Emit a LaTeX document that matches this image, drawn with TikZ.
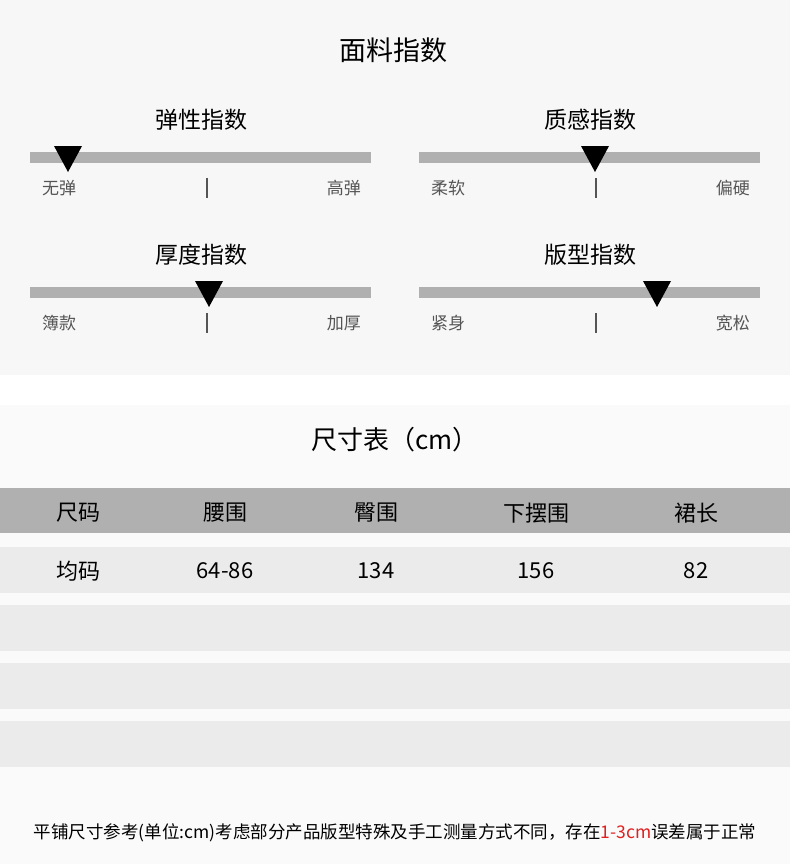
\documentclass[tikz,border=0pt]{standalone}
\usepackage{fontspec}
\setmainfont{Noto Sans CJK SC}
\usetikzlibrary{positioning}
\definecolor{panelgray}{HTML}{F7F7F7}
\definecolor{bargray}{HTML}{B0B0B0}
\definecolor{rowgray}{HTML}{EBEBEB}
\definecolor{labelgray}{HTML}{555555}
\definecolor{myred}{HTML}{E02020}
\tikzset{
  bar/.style={fill=bargray, draw=none},
  pointer/.style={fill=black, draw=none},
  sublabel/.style={font=\fontsize{17}{17}\selectfont, text=labelgray, inner sep=0pt},
  subtitle/.style={font=\fontsize{23}{23}\selectfont, inner sep=0pt},
  cell/.style={font=\fontsize{22}{22}\selectfont, inner sep=0pt},
}
\newcommand{\fabricbar}[7]{% x0, y, title, left, right, pointer x, name
  \node[subtitle] (#7title) at ({#1+171},{#2-37}) {#3};
  \fill[bar] (#1,{#2-5}) rectangle ({#1+341},{#2+6});
  \fill[pointer] ({#6-14},{#2-11}) -- ({#6+14},{#2-11}) -- (#6,{#2+15}) -- cycle;
  \node[sublabel, anchor=west] (#7left) at ({#1+12},{#2+31}) {#4};
  \node[sublabel, anchor=east] (#7right) at ({#1+331},{#2+31}) {#5};
  \draw[labelgray, line width=1.2pt] ({#1+177},{#2+21}) -- ({#1+177},{#2+41});
}
\begin{document}
\begin{tikzpicture}[x=1pt, y=-1pt]
  \useasboundingbox (0,0) rectangle (790,864);
  \fill[white] (0,0) rectangle (790,864);
  % panels
  \fill[panelgray] (0,0) rectangle (790,375);
  \fill[panelgray!60!white] (0,405) rectangle (790,864);
  \node[subtitle, font=\fontsize{27}{27}\selectfont] (fabric) at (393,50) {面料指数};
  \fabricbar{30}{157}{弹性指数}{无弹}{高弹}{68}{elastic}
  \fabricbar{419}{157}{质感指数}{柔软}{偏硬}{595}{texture}
  \fabricbar{30}{292}{厚度指数}{簿款}{加厚}{209}{thick}
  \fabricbar{419}{292}{版型指数}{紧身}{宽松}{657}{fit}
  % size table
  \node[subtitle, font=\fontsize{26}{26}\selectfont] (sizes) at (395,440) {尺寸表（cm）};
  \fill[bargray] (0,488) rectangle (790,533);
  \foreach \y in {547,605,663,721}
    \fill[rowgray] (0,\y) rectangle (790,{\y+46});
  \foreach \x/\h/\v [count=\i] in {78/尺码/均码, 225/腰围/64-86, 376/臀围/134, 536/下摆围/156, 696/裙长/82} {
    \node[cell] (head\i) at (\x,513) {\h};
    \node[cell] (val\i) at (\x,571) {\v};
  }
  \node[font=\fontsize{17.5}{17.5}\selectfont, inner sep=0pt] (note) at (395,833)
    {平铺尺寸参考(单位:cm)考虑部分产品版型特殊及手工测量方式不同，存在\textcolor{myred}{1-3cm}误差属于正常};
\end{tikzpicture}
\end{document}
